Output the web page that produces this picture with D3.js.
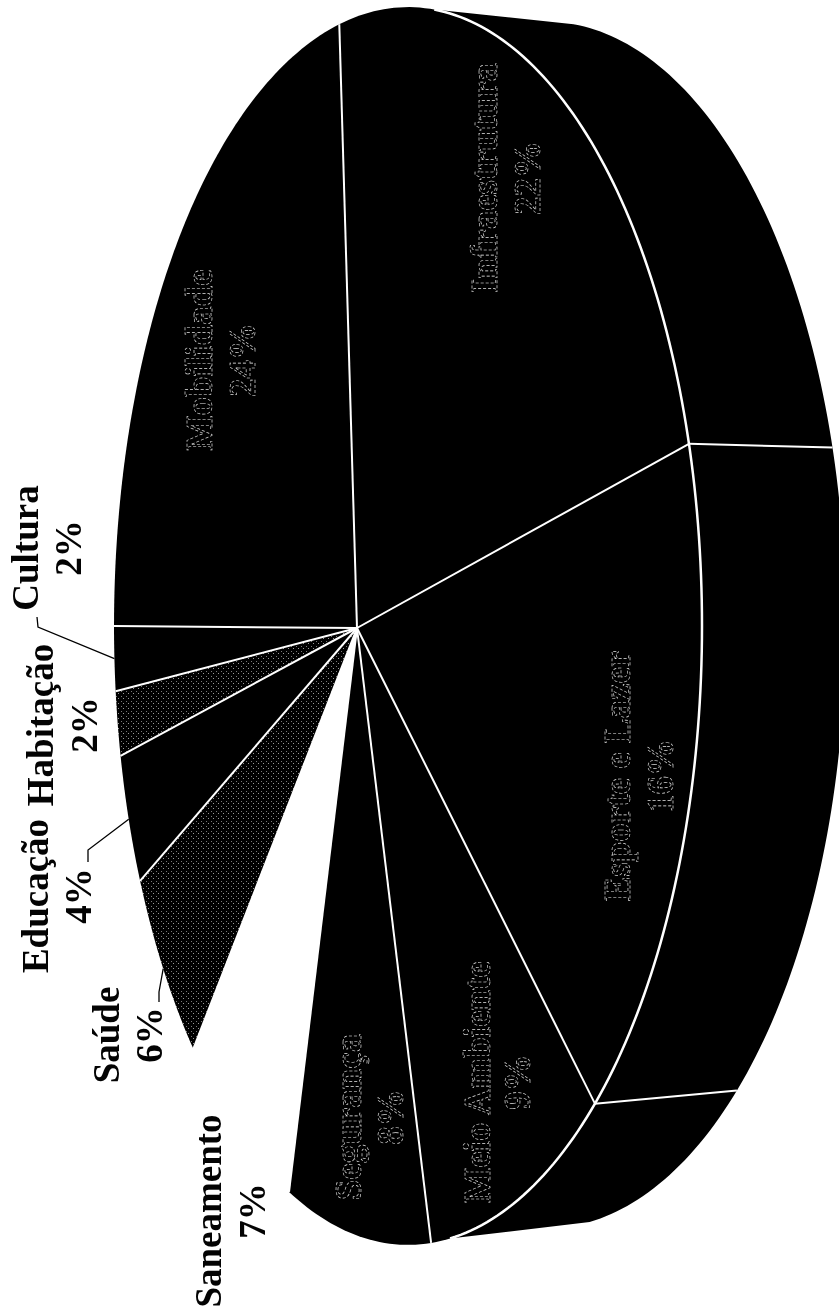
<!DOCTYPE html>
<html>
<head>
<meta charset="utf-8">
<script src="https://cdn.jsdelivr.net/npm/d3@7"></script>
<style>
    body { margin: 0; background: #fff; }
    svg { display: block; }
</style>
</head>
<body>
<script>
const categories = ["Cultura", "Habitação", "Educação", "Saúde", "Saneamento",
    "Segurança", "Meio Ambiente", "Esporte e Lazer", "Infraestrutura", "Mobilidade"];
const shares = [2, 2, 4, 6, 7, 8, 9, 16, 22, 24];
const sliceColors = ["#000", "stipple", "#000", "stipple", "#fff", "#000", "#000", "#000", "#000", "#000"];

// text placement: baseline x of name, baseline x of percent, centre y
const labelPos = [
    [38, 81, 548], [53, 97, 725], [48, 91, 896], [119, 162, 1035], [221, 265, 1211],
    [361, 403, 1117], [490, 530, 1082], [630, 673, 776], [497, 540, 178], [212, 255, 360]
];
const insideFrom = 5; // slices from here on have the label inside
const leaders = { 0: [[38, 627], [37, 617]], 2: [[88, 850], [88, 862]], 3: [[159, 992], [159, 1002]] };

const width = 839;
const height = 1314;
const rad = Math.PI / 180;

// the pie lies on its side and in perspective, so a circle is projected by hand
const persp = -0.1735;
function topFace(a) {
    const u = -Math.cos(a), v = Math.sin(a), w = 1 + persp * u;
    return [(223.2 * u + 357) / w, 626 + 609.5 * v / w];
}
function bottomFace(a) {
    const u = -Math.cos(a), v = Math.sin(a), w = 1 + persp * u;
    return [(204 * u + 495) / w, 625 + 594 * v / w];
}

const svg = d3.select("body").append("svg")
    .attr("width", width)
    .attr("height", height)
    .style("background-color", "#fff");

const stipple = svg.append("defs").append("pattern")
    .attr("id", "stipple")
    .attr("width", 5)
    .attr("height", 5)
    .attr("patternUnits", "userSpaceOnUse");
stipple.append("rect").attr("width", 5).attr("height", 5).attr("fill", "#000");
stipple.append("rect").attr("x", 1).attr("y", 1).attr("width", 1).attr("height", 1).attr("fill", "#777");
stipple.append("rect").attr("x", 3).attr("y", 3).attr("width", 1).attr("height", 1).attr("fill", "#999");

const pie = d3.pie().sort(null).value(d => d);
const arcs = pie(shares);
const line = d3.line();

function sweep(face, a0, a1) {
    const n = Math.max(2, Math.ceil(Math.abs(a1 - a0) / rad));
    return d3.range(n + 1).map(i => face(a0 + (a1 - a0) * i / n));
}

// side wall
const wallStart = 108 * rad;
const wallEnd = 255 * rad;
svg.append("path")
    .attr("fill", "#000")
    .attr("d", line(sweep(topFace, wallStart, wallEnd).concat(sweep(bottomFace, wallEnd, wallStart))) + "Z");

// top face
svg.selectAll(".slice")
    .data(arcs)
    .join("path")
    .attr("class", "slice")
    .attr("fill", (d, i) => sliceColors[i] === "stipple" ? "url(#stipple)" : sliceColors[i])
    .attr("d", d => line([[357, 628]].concat(sweep(topFace, d.startAngle, d.endAngle))) + "Z");

// spokes
svg.selectAll(".spoke")
    .data(arcs)
    .join("path")
    .attr("class", "spoke")
    .attr("fill", "none")
    .attr("stroke", "#fff")
    .attr("stroke-width", 2)
    .attr("d", d => line([[357, 628], topFace(d.endAngle)]));

// rim and the edges on the wall
svg.append("path")
    .attr("fill", "none")
    .attr("stroke", "#fff")
    .attr("stroke-width", 2.5)
    .attr("d", line(sweep(topFace, wallStart, wallEnd)));

svg.selectAll(".edge")
    .data(arcs.filter(d => d.endAngle > wallStart + 0.2 && d.endAngle < wallEnd - 0.2))
    .join("path")
    .attr("class", "edge")
    .attr("fill", "none")
    .attr("stroke", "#fff")
    .attr("stroke-width", 2)
    .attr("d", d => line([topFace(d.endAngle), bottomFace(d.endAngle)]));

// leader lines
Object.keys(leaders).forEach(k => {
    const d = arcs[k];
    const start = topFace((d.startAngle + d.endAngle) / 2);
    svg.append("path")
        .attr("fill", "none")
        .attr("stroke", "#000")
        .attr("stroke-width", 1.3)
        .attr("d", line([start, leaders[k][0], leaders[k][1]]));
});

// labels
const labelLayer = svg.append("g").style("opacity", 0.99);

function addLabel(txt, x, y, inside) {
    const t = labelLayer.append("text")
        .attr("transform", `translate(${x},${y}) rotate(-90)`)
        .attr("text-anchor", "middle")
        .style("font-family", "'Liberation Serif', serif")
        .style("font-weight", "bold")
        .style("font-size", "37px")
        .text(txt);
    if (inside) {
        t.attr("fill", "none")
            .attr("stroke", "#e4e4e4")
            .attr("stroke-width", 0.6)
            .attr("stroke-dasharray", "3 2");
    } else {
        t.attr("fill", "#000");
    }
}

categories.forEach((name, i) => {
    addLabel(name, labelPos[i][0], labelPos[i][2], i >= insideFrom);
    addLabel(shares[i] + "%", labelPos[i][1], labelPos[i][2], i >= insideFrom);
});
</script>
</body>
</html>
